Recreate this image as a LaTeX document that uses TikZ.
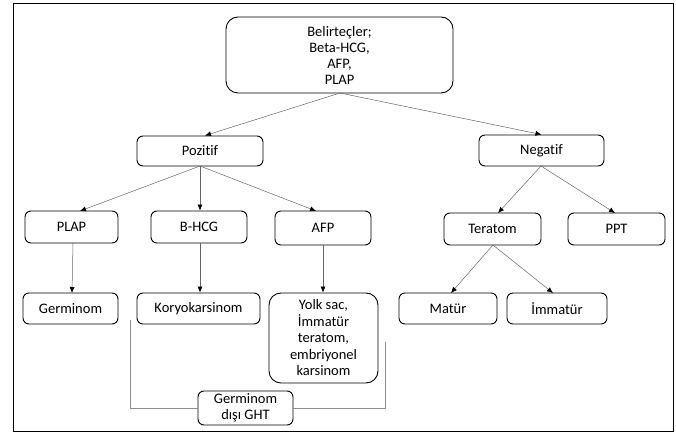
\documentclass[tikz,border=0pt]{standalone}
\usepackage{fontspec}
\setmainfont{Carlito}[Ligatures=NoCommon]
\usetikzlibrary{arrows.meta}
\begin{document}
\begin{tikzpicture}[x=1pt,y=-1pt,
  bx/.style={draw=black,line width=0.9pt,rounded corners=6pt,align=center,font=\fontsize{14.5}{16}\selectfont,inner sep=0pt},
  conn/.style={draw=black!60,line width=0.5pt,-{Latex[length=6pt,width=5pt,black]}},
  brk/.style={draw=black!45,line width=0.6pt}]
\useasboundingbox (0,0) rectangle (676,435);
\draw[line width=0.8pt] (13,3) rectangle (673,431);
\node[bx,rounded corners=12pt,minimum width=227pt,minimum height=76pt] (top) at (339.5,55) {Belirteçler;\\Beta-HCG,\\AFP,\\PLAP};
\node[bx,minimum width=126pt,minimum height=30pt] (poz) at (200,151) {Pozitif};
\node[bx,minimum width=125pt,minimum height=31pt] (neg) at (541.5,150.5) {Negatif};
\node[bx,minimum width=93pt,minimum height=32pt] (plap) at (71.5,227) {PLAP};
\node[bx,minimum width=96pt,minimum height=32pt] (bhcg) at (199,227) {B-HCG};
\node[bx,minimum width=96pt,minimum height=34pt] (afp) at (323,228) {AFP};
\node[bx,minimum width=97pt,minimum height=32pt] (ter) at (492.5,229) {Teratom};
\node[bx,minimum width=97pt,minimum height=32pt] (ppt) at (616.5,229) {PPT};
\node[bx,minimum width=95pt,minimum height=31pt] (germ) at (70.5,308.5) {Germinom};
\node[bx,minimum width=123pt,minimum height=31pt] (kory) at (198.5,308.5) {Koryokarsinom};
\node[bx,rounded corners=12pt,minimum width=109pt,minimum height=90pt,font=\fontsize{14.5}{16.5}\selectfont] (yolk) at (323.5,338) {Yolk sac,\\İmmatür\\teratom,\\embriyonel\\karsinom};
\node[bx,minimum width=98pt,minimum height=31pt] (mat) at (448,308.5) {Matür};
\node[bx,minimum width=100pt,minimum height=31pt] (imm) at (557,308.5) {İmmatür};
\node[bx,minimum width=95pt,minimum height=34pt] (ght) at (245.5,408) {Germinom\\dışı GHT};
\coordinate (topb) at (340,93);
\coordinate (pozb) at (200,166);
\coordinate (negb) at (541,166);
\coordinate (terb) at (493,245);
\draw[conn] (topb) -- (poz.north -| 205,0);
\draw[conn] (topb) -- (neg.north);
\draw[conn] (pozb) -- (80,211);
\draw[conn] (pozb) -- (bhcg.north -| pozb);
\draw[conn] (pozb) -- (316,211);
\draw[conn] (negb) -- (498,213);
\draw[conn] (negb) -- (615,213);
\draw[conn] (terb) -- (451,293);
\draw[conn] (terb) -- (553,293);
\draw[conn] (73,243) -- (72,293);
\draw[conn] (bhcg.south -| 200,0) -- (kory.north -| 200,0);
\draw[conn] (afp.south -| 323,0) -- (yolk.north -| 323,0);
\coordinate (bl) at (130,320);
\coordinate (br) at (385,342);
\draw[brk] (bl) |- (ght.west);
\draw[brk] (br) |- (ght.east);
\end{tikzpicture}
\end{document}
